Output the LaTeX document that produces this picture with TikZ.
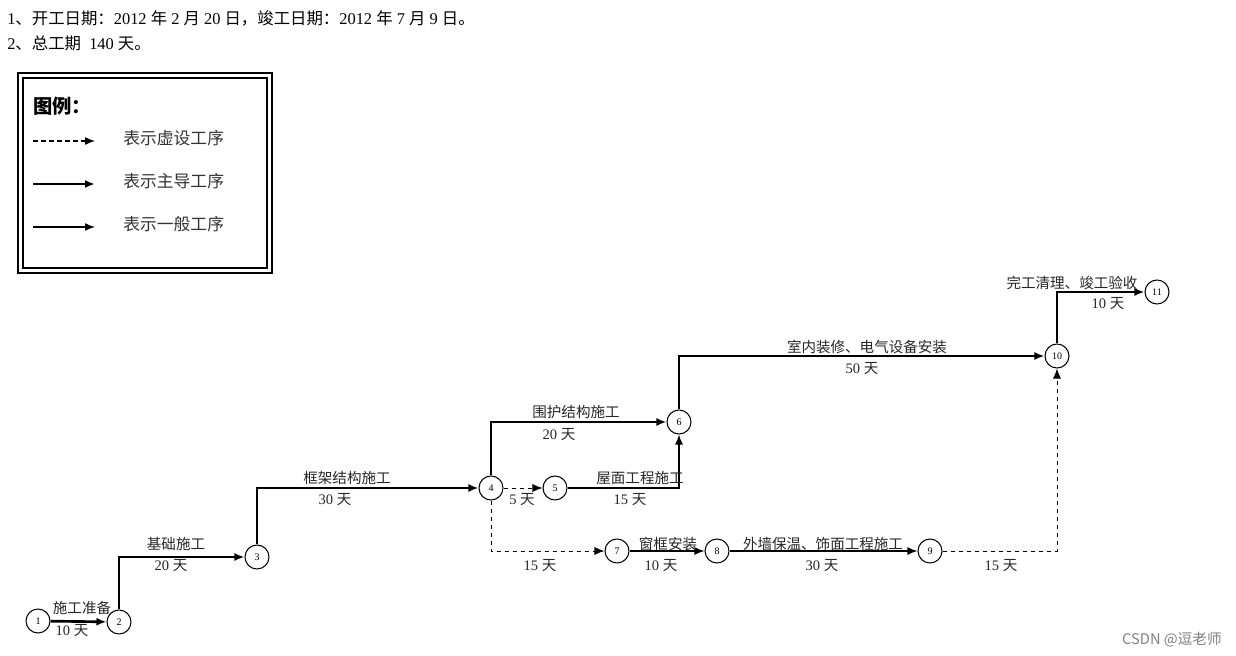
\documentclass[tikz,border=0pt]{standalone}
\usepackage{fontspec}
\setmainfont{Liberation Serif}
\newfontfamily\cjk{Noto Sans CJK SC}
\newfontfamily\cjksf{Noto Sans CJK SC}
\usetikzlibrary{arrows.meta}
\begin{document}
\begin{tikzpicture}[x=0.75pt,y=-0.75pt,
  ev/.style={circle,draw,line width=0.8pt,minimum size=18pt,inner sep=0pt,font=\fontsize{7.5}{8}\selectfont,fill=white},
  lbl/.style={font=\fontsize{10.9}{12}\selectfont,text=black!85,inner sep=1pt},
  tip/.style={-{Latex[length=7.5pt,width=6pt]}},
  major/.style={tip,line width=2pt},
  normal/.style={tip,line width=1pt},
  dummy/.style={tip,line width=0.65pt,dash pattern=on 3.5pt off 2.5pt}]
\useasboundingbox (0,0) rectangle (1236,656);
% header
\node[anchor=west,font=\fontsize{12.3}{14}\selectfont,inner sep=0pt] (h1) at (7,18) {1{\cjk 、开工日期：}2012 {\cjk 年} 2 {\cjk 月} 20 {\cjk 日，竣工日期：}2012 {\cjk 年} 7 {\cjk 月} 9 {\cjk 日。}};
\node[anchor=west,font=\fontsize{12.3}{14}\selectfont,inner sep=0pt] (h2) at (7,43) {2{\cjk 、总工期}\ \ 140 {\cjk 天。}};
% legend
\draw[line width=1.3pt] (18,73) rectangle (272,273);
\draw[line width=0.9pt] (23,78) rectangle (267,268);
\node[anchor=west,font=\cjk\bfseries\fontsize{14.5}{16}\selectfont,inner sep=0pt] (lt) at (33,106) {图例：};
\coordinate (la1) at (33,141); \coordinate (lb1) at (95,141);
\coordinate (la2) at (33,184); \coordinate (lb2) at (95,184);
\coordinate (la3) at (33,227); \coordinate (lb3) at (95,227);
\draw[dummy,line width=1pt] (la1) -- (lb1);
\draw[major,line width=1.5pt] (la2) -- (lb2);
\draw[normal,line width=1.1pt] (la3) -- (lb3);
\node[anchor=west,font=\cjk\fontsize{12.6}{14}\selectfont,text=black!80,inner sep=0pt] (lx1) at (123,138) {表示虚设工序};
\node[anchor=west,font=\cjk\fontsize{12.6}{14}\selectfont,text=black!80,inner sep=0pt] (lx2) at (123,181) {表示主导工序};
\node[anchor=west,font=\cjk\fontsize{12.6}{14}\selectfont,text=black!80,inner sep=0pt] (lx3) at (123,224) {表示一般工序};
% events
\node[ev] (n1) at (38,621) {1};
\node[ev] (n2) at (119,622) {2};
\node[ev] (n3) at (257,557) {3};
\node[ev] (n4) at (491,488) {4};
\node[ev] (n5) at (555,488) {5};
\node[ev] (n6) at (679,422) {6};
\node[ev] (n7) at (617,551) {7};
\node[ev] (n8) at (717,551) {8};
\node[ev] (n9) at (930,551) {9};
\node[ev] (n10) at (1057,356) {10};
\node[ev] (n11) at (1157,292) {11};
% arrows
\draw[major] (n1) -- (n2);
\draw[major] (n2) |- (n3);
\draw[major] (n3) |- (n4);
\draw[major] (n4) |- (n6);
\draw[dummy] (n4) -- (n5);
\draw[normal] (n5) -| (n6);
\draw[dummy] (n4) |- (n7);
\draw[normal] (n7) -- (n8);
\draw[normal] (n8) -- (n9);
\draw[dummy] (n9) -| (n10);
\draw[major] (n6) |- (n10);
\draw[major] (n10) |- (n11);
% labels
\node[lbl] (t12) at (82,608) {\cjk 施工准备};
\node[lbl] (d12) at (72,631) {10 {\cjk 天}};
\node[lbl] (t23) at (176,544) {\cjk 基础施工};
\node[lbl] (d23) at (171,566) {20 {\cjk 天}};
\node[lbl] (t34) at (347,478) {\cjk 框架结构施工};
\node[lbl] (d34) at (335,500) {30 {\cjk 天}};
\node[lbl] (t46) at (576,412) {\cjk 围护结构施工};
\node[lbl] (d46) at (559,435) {20 {\cjk 天}};
\node[lbl] (d45) at (522,500) {5 {\cjk 天}};
\node[lbl] (t56) at (640,478) {\cjk 屋面工程施工};
\node[lbl] (d56) at (630,500) {15 {\cjk 天}};
\node[lbl] (d47) at (540,566) {15 {\cjk 天}};
\node[lbl] (t78) at (668,544) {\cjk 窗框安装};
\node[lbl] (d78) at (661,566) {10 {\cjk 天}};
\node[lbl] (t89) at (823,544) {\cjk 外墙保温、饰面工程施工};
\node[lbl] (d89) at (822,566) {30 {\cjk 天}};
\node[lbl] (d910) at (1001,566) {15 {\cjk 天}};
\node[lbl] (t610) at (867,347) {\cjk 室内装修、电气设备安装};
\node[lbl] (d610) at (862,369) {50 {\cjk 天}};
\node[lbl] (t1011) at (1072,283) {\cjk 完工清理、竣工验收};
\node[lbl] (d1011) at (1108,304) {10 {\cjk 天}};
% watermark
\node[font=\cjksf\fontsize{11}{12}\selectfont,text=black!50,inner sep=0pt] (wm) at (1172,640) {CSDN @逗老师};
\end{tikzpicture}
\end{document}
